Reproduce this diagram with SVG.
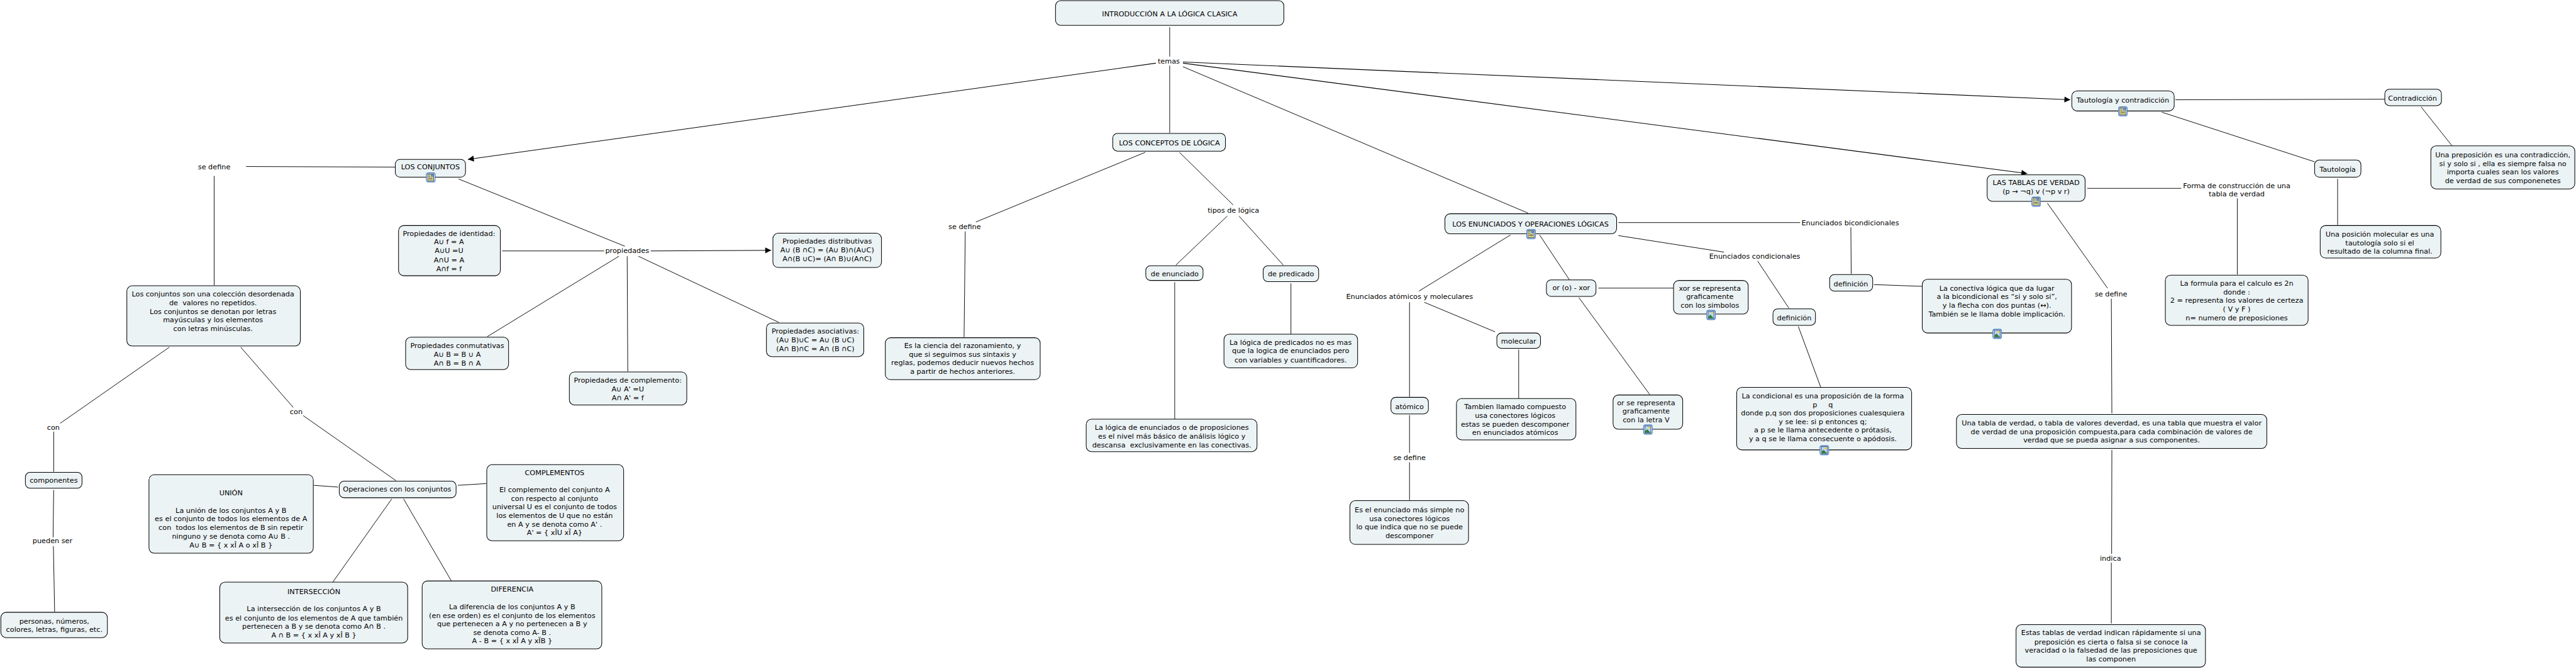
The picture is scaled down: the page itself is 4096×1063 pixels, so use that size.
<svg xmlns="http://www.w3.org/2000/svg" width="4096" height="1063" viewBox="0 0 4096 1063">
<style>
text{font-family:"DejaVu Sans","Liberation Sans",sans-serif;font-size:12px;fill:#000;text-anchor:middle;white-space:pre}
.b{fill:#ecf3f5;stroke:#000;stroke-width:1.1}
#connectors line{stroke:#000;stroke-width:1}
#connectors line.a{stroke-width:1.2;marker-end:url(#arrow)}
</style>
<defs>
<marker id="arrow" markerUnits="userSpaceOnUse" markerWidth="12" markerHeight="12" viewBox="0 0 12 12" refX="11" refY="6" orient="auto"><path d="M1 1L11 6L1 11z" fill="#000"/></marker>
<symbol id="docIcon" width="16" height="17" viewBox="0 0 16 17" overflow="visible"><rect x=".7" y=".7" width="14.6" height="15.6" rx="3" fill="#fff" stroke="#3a78c8" stroke-width="1.3"/><rect x="3" y="2.5" width="10" height="12" fill="#f5efa5" stroke="#111" stroke-width=".8"/><rect x="8" y="3" width="4.6" height="4.500" fill="#5f8fc8"/><path d="M4.500 4.500h2.500M4.500 7h2.500M4.500 9.500h7M4.500 11.500h7" stroke="#111" stroke-width=".8"/></symbol>
<symbol id="imgIcon" width="16" height="17" viewBox="0 0 16 17" overflow="visible"><rect x=".7" y=".7" width="14.6" height="15.6" rx="3" fill="#fff" stroke="#3a78c8" stroke-width="1.3"/><rect x="3" y="2.500" width="10" height="12" fill="#b9d6f2" stroke="#14305f" stroke-width=".9"/><circle cx="10" cy="5.200" r="1.800" fill="#f4d03f"/><path d="M3.500 14V11L7 8L12.500 14z" fill="#2f7d3a"/></symbol>
</defs>
<rect width="4096" height="1063" fill="#fff"/>
<g transform="scale(.93815)">
<g id="connectors">
<line x1="1982.500" y1="46" x2="1982.500" y2="96"/>
<line x1="1982.500" y1="111" x2="1982.500" y2="225"/>
<line class="a" x1="1959" y1="107" x2="793" y2="270"/>
<line class="a" x1="2005" y1="105" x2="3509" y2="169"/>
<line class="a" x1="2005" y1="107" x2="3436" y2="294"/>
<line x1="2005" y1="113" x2="2590" y2="361"/>
<line x1="417" y1="282" x2="670" y2="283"/>
<line x1="363" y1="298" x2="363" y2="483"/>
<line x1="777" y1="303" x2="1059" y2="417"/>
<line x1="851" y1="425" x2="1024" y2="425"/>
<line x1="1049" y1="434" x2="826" y2="570"/>
<line x1="1063" y1="434" x2="1064" y2="629"/>
<line x1="1082" y1="434" x2="1320" y2="546"/>
<line class="a" x1="1103" y1="425" x2="1307" y2="424"/>
<line x1="287" y1="588" x2="102" y2="717"/>
<line x1="408" y1="588" x2="497" y2="690"/>
<line x1="514" y1="704" x2="671" y2="814"/>
<line x1="91" y1="731" x2="91" y2="799"/>
<line x1="91" y1="830" x2="90" y2="910"/>
<line x1="90.500" y1="925" x2="92.600" y2="1036"/>
<line x1="532" y1="822" x2="573" y2="825"/>
<line x1="776" y1="822" x2="824" y2="819"/>
<line x1="664" y1="845" x2="564" y2="986"/>
<line x1="684" y1="845" x2="765" y2="984"/>
<line x1="1941" y1="258" x2="1654" y2="376"/>
<line x1="1999" y1="258" x2="2090" y2="347"/>
<line x1="1636" y1="392" x2="1634" y2="571"/>
<line x1="2080" y1="366" x2="1993" y2="449"/>
<line x1="2100" y1="366" x2="2175" y2="449"/>
<line x1="1991" y1="478" x2="1991" y2="710"/>
<line x1="2188" y1="480" x2="2188" y2="566"/>
<line x1="2560" y1="398" x2="2405" y2="493"/>
<line x1="2389" y1="512" x2="2389" y2="672"/>
<line x1="2414" y1="512" x2="2534" y2="562"/>
<line x1="2574" y1="592" x2="2574" y2="675"/>
<line x1="2389" y1="703" x2="2389" y2="767"/>
<line x1="2389" y1="783" x2="2389" y2="847"/>
<line x1="2609.500" y1="398" x2="2660" y2="474"/>
<line x1="2709" y1="488" x2="2836.500" y2="488"/>
<line x1="2676" y1="504" x2="2796" y2="668"/>
<line x1="2743" y1="399" x2="2922" y2="427"/>
<line x1="2979" y1="442" x2="3032" y2="522"/>
<line x1="3048" y1="553" x2="3086" y2="656"/>
<line x1="2743" y1="377" x2="3051" y2="377"/>
<line x1="3137" y1="385" x2="3137.600" y2="464"/>
<line x1="3176" y1="482" x2="3258" y2="485"/>
<line x1="3687" y1="169" x2="4042" y2="168"/>
<line x1="4103.500" y1="181" x2="4156" y2="247"/>
<line x1="3664" y1="190" x2="3923" y2="274"/>
<line x1="3962" y1="303" x2="3962" y2="381"/>
<line x1="3537.600" y1="319" x2="3697" y2="319"/>
<line x1="3792" y1="336" x2="3792" y2="465"/>
<line x1="3470" y1="344" x2="3572" y2="488"/>
<line x1="3578.500" y1="506" x2="3579.400" y2="700"/>
<line x1="3579.400" y1="762" x2="3579" y2="938"/>
<line x1="3578.500" y1="953" x2="3578.500" y2="1056"/>
</g>
<g id="root"><rect class="b" x="1789" y="1" width="387" height="42" rx="9"/><text x="1982.500" y="28">INTRODUCCIÓN A LA LÓGICA CLASICA</text></g>
<g id="temas"><text x="1981" y="108">temas</text></g>
<g id="conjuntos"><rect class="b" x="670" y="270" width="119" height="30" rx="8"/><text x="729.500" y="287">LOS CONJUNTOS</text><use href="#docIcon" x="722" y="292"/></g>
<g id="sedefine1"><text x="363" y="286.500">se define</text></g>
<g id="conjdef"><rect class="b" x="215" y="484" width="294" height="102" rx="9"/><text><tspan x="361" y="502.500">Los conjuntos son una colección desordenada</tspan><tspan x="361" y="517">de  valores no repetidos.</tspan><tspan x="361" y="531.500">Los conjuntos se denotan por letras</tspan><tspan x="361" y="546">mayúsculas y los elementos</tspan><tspan x="361" y="560.500">con letras minúsculas.</tspan></text></g>
<g id="propiedades"><text x="1063" y="428.500">propiedades</text></g>
<g id="identidad"><rect class="b" x="675.500" y="382" width="172.500" height="85" rx="9"/><text><tspan x="761" y="399.500">Propiedades de identidad:</tspan><tspan x="761" y="414">A∪ f = A</tspan><tspan x="761" y="429">A∪U =U</tspan><tspan x="761" y="444">A∩U = A</tspan><tspan x="761" y="459">A∩f = f</tspan></text></g>
<g id="distributivas"><rect class="b" x="1310" y="395" width="184" height="58" rx="9"/><text><tspan x="1402" y="412.500">Propiedades distributivas</tspan><tspan x="1402" y="427">A∪ (B ∩C) = (A∪ B)∩(A∪C)</tspan><tspan x="1402" y="442">A∩(B ∪C)= (A∩ B)∪(A∩C)</tspan></text></g>
<g id="conmutativas"><rect class="b" x="687.500" y="571" width="174.500" height="55" rx="9"/><text><tspan x="775" y="589.500">Propiedades conmutativas</tspan><tspan x="775" y="604.500">A∪ B = B ∪ A</tspan><tspan x="775" y="619.500">A∩ B = B ∩ A</tspan></text></g>
<g id="complemento"><rect class="b" x="965" y="630" width="199" height="56" rx="9"/><text><tspan x="1064" y="648.500">Propiedades de complemento:</tspan><tspan x="1064" y="662.500">A∪ A' =U</tspan><tspan x="1064" y="677.500">A∩ A' = f</tspan></text></g>
<g id="asociativas"><rect class="b" x="1299" y="547" width="165" height="57" rx="9"/><text><tspan x="1382" y="565">Propiedades asociativas:</tspan><tspan x="1382" y="580">(A∪ B)∪C = A∪ (B ∪C)</tspan><tspan x="1382" y="594.500">(A∩ B)∩C = A∩ (B ∩C)</tspan></text></g>
<g id="con1"><text x="90.500" y="727.500">con</text></g>
<g id="con2"><text x="502" y="701.500">con</text></g>
<g id="componentes"><rect class="b" x="43" y="800" width="96" height="27" rx="8"/><text x="91" y="818">componentes</text></g>
<g id="puedenser"><text x="89" y="919.500">pueden ser</text></g>
<g id="personas"><rect class="b" x="1.500" y="1037" width="180.500" height="43" rx="9"/><text><tspan x="92" y="1056.500">personas, números,</tspan><tspan x="92" y="1070.500">colores, letras, figuras, etc.</tspan></text></g>
<g id="operaciones"><rect class="b" x="575" y="815" width="198" height="28" rx="8"/><text x="673" y="832.500">Operaciones con los conjuntos</text></g>
<g id="union"><rect class="b" x="252.500" y="804" width="278.500" height="133" rx="9"/><text><tspan x="391.500" y="838.500">UNIÓN</tspan><tspan x="391.500" y="868.500">La unión de los conjuntos A y B</tspan><tspan x="391.500" y="883">es el conjunto de todos los elementos de A</tspan><tspan x="391.500" y="897.500">con  todos los elementos de B sin repetir</tspan><tspan x="391.500" y="912.500">ninguno y se denota como A∪ B .</tspan><tspan x="391.500" y="927.500">A∪ B = { x xÎ A o xÎ B }</tspan></text></g>
<g id="complementos"><rect class="b" x="825" y="787" width="232" height="129" rx="9"/><text><tspan x="940" y="804.500">COMPLEMENTOS</tspan><tspan x="940" y="833.500">El complemento del conjunto A</tspan><tspan x="940" y="848.500">con respecto al conjunto</tspan><tspan x="940" y="862.500">universal U es el conjunto de todos</tspan><tspan x="940" y="877.500">los elementos de U que no están</tspan><tspan x="940" y="892.500">en A y se denota como A' .</tspan><tspan x="940" y="906.500">A' = { xÎU xÏ A}</tspan></text></g>
<g id="interseccion"><rect class="b" x="372.500" y="986" width="318.500" height="103" rx="9"/><text><tspan x="532" y="1006.500">INTERSECCIÓN</tspan><tspan x="532" y="1035.500">La intersección de los conjuntos A y B</tspan><tspan x="532" y="1050.500">es el conjunto de los elementos de A que también</tspan><tspan x="532" y="1064.500">pertenecen a B y se denota como A∩ B .</tspan><tspan x="532" y="1079.500">A ∩ B = { x xÎ A y xÎ B }</tspan></text></g>
<g id="diferencia"><rect class="b" x="715.500" y="984" width="304.500" height="115" rx="9"/><text><tspan x="868" y="1002.500">DIFERENCIA</tspan><tspan x="868" y="1031.500">La diferencia de los conjuntos A y B</tspan><tspan x="868" y="1046.500">(en ese orden) es el conjunto de los elementos</tspan><tspan x="868" y="1060.500">que pertenecen a A y no pertenecen a B y</tspan><tspan x="868" y="1075.500">se denota como A- B .</tspan><tspan x="868" y="1089.500">A - B = { x xÎ A y xÏB }</tspan></text></g>
<g id="conceptos"><rect class="b" x="1886" y="226" width="191" height="30" rx="8"/><text x="1982" y="246.500">LOS CONCEPTOS DE LÓGICA</text></g>
<g id="sedefine2"><text x="1635" y="388.500">se define</text></g>
<g id="tipos"><text x="2090.500" y="360.500">tipos de lógica</text></g>
<g id="ciencia"><rect class="b" x="1500.500" y="572" width="262.500" height="71" rx="9"/><text><tspan x="1631.500" y="589.500">Es la ciencia del razonamiento, y</tspan><tspan x="1631.500" y="604.500">que si seguimos sus sintaxis y</tspan><tspan x="1631.500" y="618.500">reglas, podemos deducir nuevos hechos</tspan><tspan x="1631.500" y="633.500">a partir de hechos anteriores.</tspan></text></g>
<g id="enunciado"><rect class="b" x="1942" y="450" width="97" height="25" rx="8"/><text x="1991" y="467.500">de enunciado</text></g>
<g id="predicado"><rect class="b" x="2141" y="450" width="94" height="27" rx="8"/><text x="2188" y="467.500">de predicado</text></g>
<g id="lenunciados"><rect class="b" x="1841" y="710" width="289.500" height="55" rx="9"/><text><tspan x="1986" y="728.500">La lógica de enunciados o de proposiciones</tspan><tspan x="1986" y="742.500">es el nivel más básico de análisis lógico y</tspan><tspan x="1986" y="757.500">descansa  exclusivamente en las conectivas.</tspan></text></g>
<g id="lpredicados"><rect class="b" x="2074.500" y="566" width="226.500" height="57" rx="9"/><text><tspan x="2187.500" y="584.500">La lógica de predicados no es mas</tspan><tspan x="2187.500" y="598.500">que la logica de enunciados pero</tspan><tspan x="2187.500" y="613.500">con variables y cuantificadores.</tspan></text></g>
<g id="enunciados"><rect class="b" x="2449" y="362" width="291" height="34" rx="9"/><text x="2594" y="383.500">LOS ENUNCIADOS Y OPERACIONES LÓGICAS</text><use href="#docIcon" x="2587" y="388"/></g>
<g id="atmol"><text x="2389" y="506.500">Enunciados atómicos y moleculares</text></g>
<g id="molecular"><rect class="b" x="2537" y="564" width="74" height="26" rx="8"/><text x="2574" y="581.500">molecular</text></g>
<g id="tambien"><rect class="b" x="2468.500" y="675" width="202.500" height="70" rx="9"/><text><tspan x="2568" y="692.500">Tambien llamado compuesto</tspan><tspan x="2568" y="707.500">usa conectores lógicos</tspan><tspan x="2568" y="722.500">estas se pueden descomponer</tspan><tspan x="2568" y="736.500">en enunciados atómicos</tspan></text></g>
<g id="atomico"><rect class="b" x="2357.500" y="673" width="63.500" height="28" rx="8"/><text x="2389" y="692.500">atómico</text></g>
<g id="sedefine3"><text x="2389" y="779.500">se define</text></g>
<g id="simple"><rect class="b" x="2288" y="848" width="201" height="74" rx="9"/><text><tspan x="2389" y="867.500">Es el enunciado más simple no</tspan><tspan x="2389" y="882.500">usa conectores lógicos</tspan><tspan x="2389" y="896.500">lo que indica que no se puede</tspan><tspan x="2389" y="911.500">descomponer</tspan></text></g>
<g id="orxor"><rect class="b" x="2621" y="474" width="84" height="28" rx="8"/><text x="2663" y="491.500">or (o) - xor</text></g>
<g id="xor"><rect class="b" x="2836.500" y="475" width="126.500" height="57" rx="9"/><text><tspan x="2898" y="492.500">xor se representa</tspan><tspan x="2898" y="506.500">graficamente</tspan><tspan x="2898" y="521.500">con los simbolos</tspan></text><use href="#imgIcon" x="2892" y="525"/></g>
<g id="orv"><rect class="b" x="2734" y="669" width="118" height="58" rx="9"/><text><tspan x="2790" y="686.500">or se representa</tspan><tspan x="2790" y="700.500">graficamente</tspan><tspan x="2790" y="715.500">con la letra V</tspan></text><use href="#imgIcon" x="2785" y="719"/></g>
<g id="condicionales"><text x="2974" y="438.500">Enunciados condicionales</text></g>
<g id="definicion1"><rect class="b" x="3005" y="523" width="72" height="28" rx="8"/><text x="3041" y="542.500">definición</text></g>
<g id="condicional"><rect class="b" x="2943.500" y="656" width="296.500" height="106" rx="9"/><text><tspan x="3089.500" y="674.500">La condicional es una proposición de la forma</tspan><tspan x="3089.500" y="689.500">p     q</tspan><tspan x="3089.500" y="703.500">donde p,q son dos proposiciones cualesquiera</tspan><tspan x="3089.500" y="718.500">y se lee: si p entonces q;</tspan><tspan x="3089.500" y="732.500">a p se le llama antecedente o prótasis,</tspan><tspan x="3089.500" y="747.500">y a q se le llama consecuente o apódosis.</tspan></text><use href="#imgIcon" x="3084" y="754"/></g>
<g id="bicondicionales"><text x="3136" y="381.500">Enunciados bicondicionales</text></g>
<g id="definicion2"><rect class="b" x="3101" y="465" width="73" height="28" rx="8"/><text x="3137" y="484.500">definición</text></g>
<g id="conectiva"><rect class="b" x="3258" y="473" width="253" height="91" rx="9"/><text><tspan x="3384.500" y="492.500">La conectiva lógica que da lugar</tspan><tspan x="3384.500" y="506.500">a la bicondicional es “si y solo si”,</tspan><tspan x="3384.500" y="521.500">y la flecha con dos puntas (↔).</tspan><tspan x="3384.500" y="536.500">También se le llama doble implicación.</tspan></text><use href="#imgIcon" x="3377" y="557"/></g>
<g id="tautcontra"><rect class="b" x="3511.500" y="154" width="173.500" height="34" rx="9"/><text x="3598" y="173.500">Tautología y contradicción</text><use href="#docIcon" x="3590" y="180"/></g>
<g id="contradiccion"><rect class="b" x="4042" y="151" width="96" height="28" rx="8"/><text x="4089" y="170.500">Contradicción</text></g>
<g id="preposicion"><rect class="b" x="4120" y="247" width="244" height="73" rx="9"/><text><tspan x="4242" y="266.500">Una preposición es una contradicción,</tspan><tspan x="4242" y="281.500">si y solo si , ella es siempre falsa no</tspan><tspan x="4242" y="295.500">importa cuales sean los valores</tspan><tspan x="4242" y="310.500">de verdad de sus componenetes</tspan></text></g>
<g id="tautologia"><rect class="b" x="3923" y="271" width="78.500" height="29" rx="8"/><text x="3962" y="290.500">Tautología</text></g>
<g id="posicion"><rect class="b" x="3932.500" y="382" width="204.500" height="55" rx="9"/><text><tspan x="4033.500" y="400.500">Una posición molecular es una</tspan><tspan x="4033.500" y="415.500">tautología solo si el</tspan><tspan x="4033.500" y="429.500">resultado de la columna final.</tspan></text></g>
<g id="tablas"><rect class="b" x="3368" y="296" width="166" height="45" rx="9"/><text><tspan x="3451" y="313.500">LAS TABLAS DE VERDAD</tspan><tspan x="3451" y="328.500">(p → ¬q) v (¬p v r)</tspan></text><use href="#docIcon" x="3443" y="333"/></g>
<g id="forma"><text><tspan x="3791" y="318.500">Forma de construcción de una</tspan><tspan x="3791" y="332.500">tabla de verdad</tspan></text></g>
<g id="formula"><rect class="b" x="3670" y="466" width="242" height="85" rx="9"/><text><tspan x="3791" y="483.500">La formula para el calculo es 2n</tspan><tspan x="3791" y="498.500">donde :</tspan><tspan x="3791" y="512.500">2 = representa los valores de certeza</tspan><tspan x="3791" y="527.500">( V y F )</tspan><tspan x="3791" y="542.500">n= numero de preposiciones</tspan></text></g>
<g id="sedefine4"><text x="3578" y="502.500">se define</text></g>
<g id="unatabla"><rect class="b" x="3316" y="702" width="526" height="57.500" rx="9"/><text><tspan x="3579" y="720.500">Una tabla de verdad, o tabla de valores deverdad, es una tabla que muestra el valor</tspan><tspan x="3579" y="735">de verdad de una proposición compuesta,para cada combinación de valores de</tspan><tspan x="3579" y="749.500">verdad que se pueda asignar a sus componentes.</tspan></text></g>
<g id="indica"><text x="3577" y="949.500">indica</text></g>
<g id="estas"><rect class="b" x="3417" y="1058" width="321" height="72" rx="9"/><text><tspan x="3578" y="1076">Estas tablas de verdad indican rápidamente si una</tspan><tspan x="3578" y="1091">preposición es cierta o falsa si se conoce la</tspan><tspan x="3578" y="1105.500">veracidad o la falsedad de las preposiciones que</tspan><tspan x="3578" y="1120">las componen</tspan></text></g>
</g>
</svg>
